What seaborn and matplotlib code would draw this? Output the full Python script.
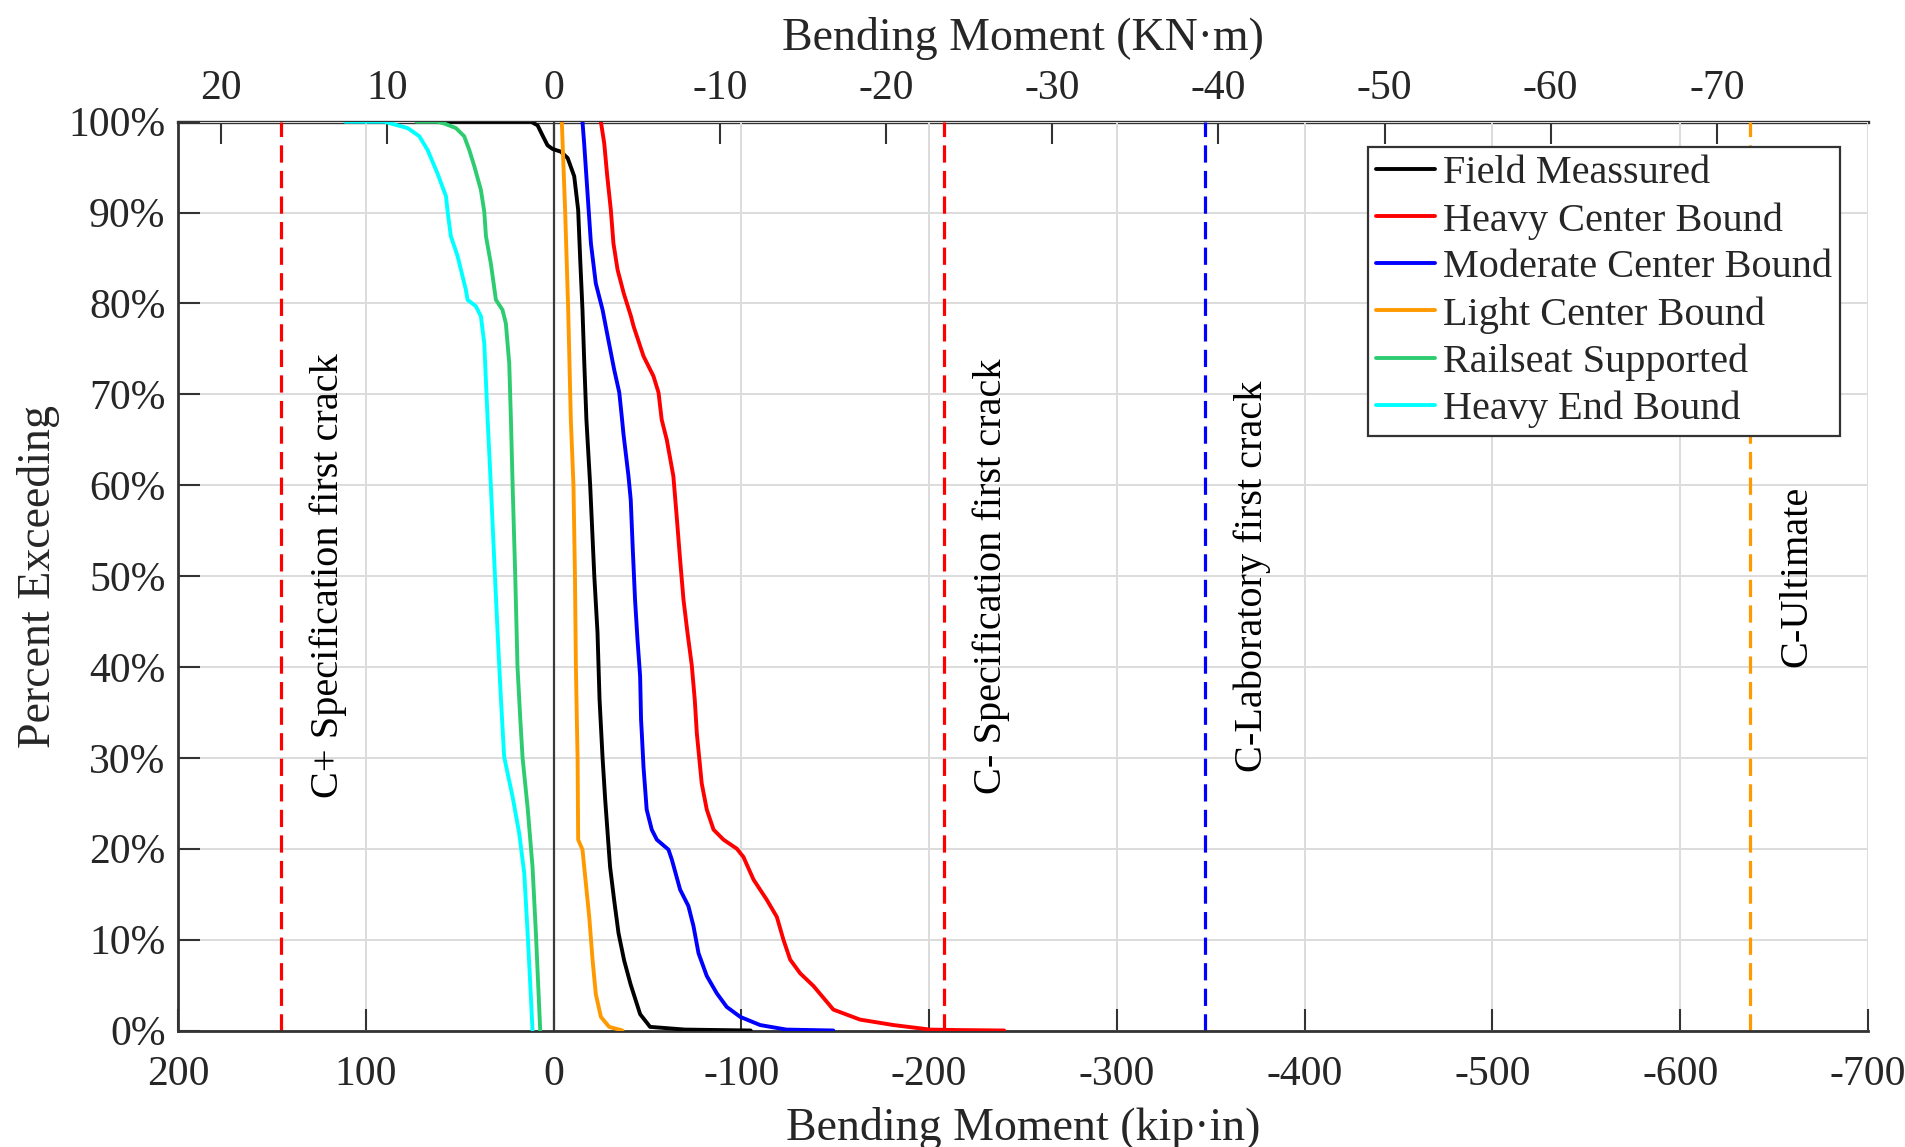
import matplotlib
matplotlib.use("Agg")
import matplotlib.pyplot as plt
import pandas as pd
import seaborn as sns
from matplotlib.lines import Line2D

# ---- exceedance curves: percent exceeding vs. bending moment (kip·in) ----
field_pct = [100, 100, 99.6, 98.5, 97.4, 97.0, 96.7, 96.0, 94.0, 90.3, 84.8, 79.3, 73.8, 67.2,
             60, 50, 43.8, 36.4, 30, 25.4, 21.7, 18.0, 14.3, 10.7, 7.7, 5.1, 1.8, 0.4, 0.1, 0]
field_kipin = [59.5, 12, 8.5, 5.9, 3.2, 0.5, -3.9, -7.5, -11.0, -13.1, -14.2, -15.4, -16.3, -17.5,
               -19.5, -21.7, -23.4, -24.5, -26.1, -27.5, -28.8, -30.1, -32.3, -34.6, -37.6, -41.0,
               -46.1, -51.4, -70, -105]

heavy_center_pct = [100, 97.6, 94, 90.3, 86.6, 83.7, 81.1, 78.6, 77.5, 74.2, 72.0, 70.2, 67.2, 65.0,
                    61.0, 56.5, 51.8, 47.4, 43.8, 40.2, 36.4, 32.7, 27.2, 24.3, 22.1, 21.0, 20.0, 19.1,
                    16.6, 14.4, 12.5, 10.0, 7.8, 6.3, 4.9, 2.3, 1.2, 0.6, 0.1, 0.05, 0]
heavy_center_kipin = [-25.2, -27.0, -28.6, -30.5, -31.9, -34.1, -37.4, -41.2, -42.6, -47.9, -53.2,
                      -55.9, -57.6, -60.3, -63.8, -65.6, -67.4, -69.2, -71.3, -73.6, -75.2, -76.3,
                      -78.9, -81.6, -85.2, -90.5, -97.6, -101.1, -106.5, -113.5, -118.9, -122.4,
                      -126.0, -131.3, -138.4, -149.0, -163.2, -181, -200.5, -215, -240]

moderate_center_pct = [100, 97.6, 92.1, 86.6, 82.2, 79.3, 76.4, 72.7, 70.2, 67.2, 65.7, 61.0, 58.4,
                       52.9, 47.4, 43.0, 39.0, 34.2, 32.7, 29.0, 24.3, 22.1, 21.0, 19.9, 18.8, 15.5,
                       13.7, 11.5, 8.5, 6.0, 4.1, 2.6, 1.5, 0.6, 0.1, 0]
moderate_center_kipin = [-15.4, -16.3, -18.1, -19.9, -22.5, -26.1, -28.8, -32.3, -35.0, -36.5, -37.2,
                         -39.9, -41.1, -42.2, -43.4, -44.7, -46.1, -46.6, -47.0, -47.9, -49.6, -52.3,
                         -55.0, -61.2, -63.0, -67.4, -71.8, -74.5, -77.2, -81.6, -86.9, -92.2, -99.4,
                         -110, -124, -149]

light_center_pct = [100, 90, 79.3, 67.2, 60, 50, 40, 34.2, 30, 21, 19.9, 16.2, 12.5, 7.7, 4.0, 1.5,
                    0.4, 0]
light_center_kipin = [-4.4, -6.2, -7.8, -9.2, -10.6, -11.4, -11.9, -12.4, -12.8, -13.1, -15.4, -17.2,
                      -19.0, -20.8, -22.5, -25.2, -29.6, -36.7]

railseat_pct = [100, 100, 99.8, 99.3, 98.4, 96.9, 95.1, 92.5, 90.1, 87.4, 84.4, 80.4, 79.3, 77.8,
                73.4, 67.2, 60, 50, 40, 34.2, 30, 24.5, 18, 10.7, 5.1, 0]
railseat_kipin = [73, 62, 58.2, 52.0, 47.6, 44.9, 42.2, 38.7, 36.9, 36.0, 33.4, 30.7, 27.2, 25.4,
                  23.6, 22.7, 21.8, 20.4, 19.2, 17.7, 16.5, 13.8, 11.2, 9.4, 8.2, 7.1]

heavy_end_pct = [100, 100, 99.8, 99.3, 98.4, 96.9, 94.3, 91.8, 90.1, 87.4, 85.2, 81.5, 80.4, 79.7,
                 78.6, 75.6, 67.2, 60, 50, 43.8, 40, 36.4, 30.1, 25.7, 21.7, 17.3, 10.7, 5.1, 0]
heavy_end_kipin = [111, 90, 86.6, 77.7, 71.5, 67.1, 61.8, 57.3, 56.4, 54.7, 51.1, 46.7, 45.8, 41.4,
                   38.7, 36.9, 35.1, 33.4, 31.2, 29.8, 28.9, 28.0, 26.3, 21.8, 18.3, 15.6, 13.8,
                   12.4, 11.2]

series_names = ["Field Meassured", "Heavy Center Bound", "Moderate Center Bound",
                "Light Center Bound", "Railseat Supported", "Heavy End Bound"]
series_colors = ["#000000", "#FF0000", "#0000FF", "#FF9900", "#2ECC71", "#00FFFF"]

# ---- capacity reference lines (kip·in) ----
limit_names = ["C+ Specification first crack", "C- Specification first crack",
               "C-Laboratory first crack", "C-Ultimate"]
limit_kipin = [145, -208, -347, -637]
limit_colors = ["#FF0000", "#FF0000", "#0000FF", "#FF9900"]

kipin_ticks = [200, 100, 0, -100, -200, -300, -400, -500, -600, -700]
knm_ticks = [20, 10, 0, -10, -20, -30, -40, -50, -60, -70]
pct_ticks = [0, 10, 20, 30, 40, 50, 60, 70, 80, 90, 100]
KIPIN_TO_KNM = 0.112985

sns.set_theme(style="white")
plt.rcParams["font.family"] = ["Liberation Serif", "DejaVu Serif"]
plt.rcParams["axes.unicode_minus"] = False

pairs = [(field_pct, field_kipin), (heavy_center_pct, heavy_center_kipin),
         (moderate_center_pct, moderate_center_kipin), (light_center_pct, light_center_kipin),
         (railseat_pct, railseat_kipin), (heavy_end_pct, heavy_end_kipin)]
frames = []
for name, (p, m) in zip(series_names, pairs):
    frames.append(pd.DataFrame({"series": name, "pct": p, "moment": m}))
df = pd.concat(frames, ignore_index=True)

fig = plt.figure(figsize=(19.06, 11.47), dpi=100)
ax = fig.add_axes([178 / 1906, 1 - 1030.5 / 1147, 1690 / 1906, 908.8 / 1147])

GRID = "#DCDCDC"
SPINE = "#333333"
LW = 2.8

ax.set_xlim(200, -700)
ax.set_ylim(0, 100)
ax.set_xticks(kipin_ticks)
ax.set_xticklabels([str(t) for t in kipin_ticks])
ax.set_yticks(pct_ticks)
ax.set_yticklabels([f"{t}%" for t in pct_ticks])
ax.grid(True, color=GRID, linewidth=1.4)
ax.set_axisbelow(True)

# zero-moment reference
ax.axvline(0, color="#3a3a3a", linewidth=1.6, zorder=2)

# capacity limits with their labels
for name, val, col in zip(limit_names, limit_kipin, limit_colors):
    ax.axvline(val, color=col, linewidth=2.3, linestyle=(0, (5.4, 2.6)), zorder=2)
    ax.text(val - 25, 50, name, rotation=90, ha="center", va="center",
            fontsize=29, color="black")

sns.lineplot(data=df, x="moment", y="pct", hue="series", hue_order=series_names,
             palette=series_colors, estimator=None, sort=False, units="series",
             linewidth=LW, ax=ax, legend=False, zorder=3)

for side in ["top", "right"]:
    ax.spines[side].set_visible(False)
for side in ["left", "bottom"]:
    ax.spines[side].set_color(SPINE)
    ax.spines[side].set_linewidth(2.0)

ax.tick_params(axis="x", direction="in", length=16, width=1.5, color=SPINE,
               labelsize=30, pad=18, bottom=True, top=False)
ax.tick_params(axis="y", direction="in", length=16, width=1.5, color=SPINE,
               labelsize=30, pad=9, left=True, right=False)
ax.set_xlabel("Bending Moment (kip·in)", fontsize=33, labelpad=9)
ax.set_ylabel("Percent Exceeding", fontsize=33, labelpad=6)

# kN·m scale on top
secax = ax.secondary_xaxis("top", functions=(lambda k: k * KIPIN_TO_KNM,
                                              lambda n: n / KIPIN_TO_KNM))
secax.set_xticks(knm_ticks)
secax.set_xticklabels([str(t) for t in knm_ticks])
secax.tick_params(axis="x", direction="in", length=16, width=1.5, color=SPINE,
                  labelsize=30, pad=10)
secax.spines["top"].set_color(SPINE)
secax.spines["top"].set_linewidth(2.4)
secax.set_xlabel("Bending Moment (KN·m)", fontsize=33, labelpad=14)

handles = [Line2D([0], [0], color=c, linewidth=LW) for c in series_colors]
leg = ax.legend(handles, series_names, loc="upper right", bbox_to_anchor=(0.9834, 0.972),
                borderaxespad=0, fontsize=29, frameon=True, fancybox=False, framealpha=1,
                edgecolor=SPINE, handlelength=1.45, handletextpad=0.2, borderpad=0.2,
                labelspacing=0.24)
leg.get_frame().set_linewidth(1.6)

fig.savefig("out.png", dpi=100)
